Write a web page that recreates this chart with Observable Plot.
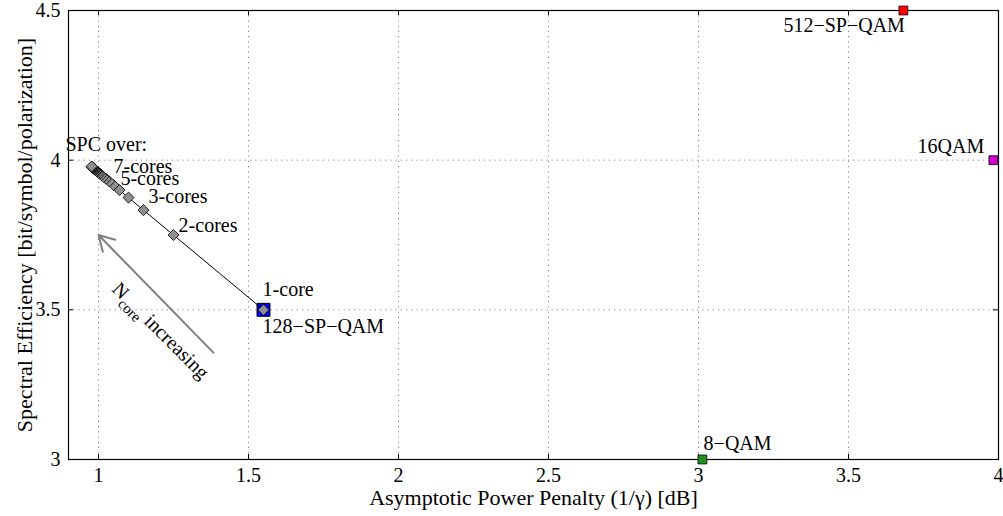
<!DOCTYPE html>
<html>
<head>
<meta charset="utf-8">
<script src="https://cdn.jsdelivr.net/npm/d3@7"></script>
<script src="https://cdn.jsdelivr.net/npm/@observablehq/plot@0.6"></script>
<style>
  html, body { margin: 0; padding: 0; background: #fff; }
  svg, svg text { font-family: "Liberation Serif", "Times New Roman", serif !important; }
</style>
</head>
<body>
<div id="chart"></div>
<script>
// ---- data ----
const xTicks = [1, 1.5, 2, 2.5, 3, 3.5, 4];
const yTicks = [3, 3.5, 4, 4.5];

// SPC over N cores
const cores   = [1, 2, 3, 4, 5, 6, 7, 8, 9, 10, 11, 12, 13, 14, 15, 16, 17, 18, 19, 20, 21, 22, 23, 24];
const spcPenalty = [1.55, 1.25, 1.15, 1.10, 1.07, 1.05, 1.036, 1.025, 1.017, 1.01, 1.005, 1.0, 0.996, 0.993, 0.99, 0.988, 0.986, 0.984, 0.983, 0.981, 0.98, 0.979, 0.978, 0.977];
const spcSE      = [3.5, 3.75, 3.833, 3.875, 3.9, 3.917, 3.929, 3.938, 3.944, 3.95, 3.955, 3.958, 3.962, 3.964, 3.967, 3.969, 3.971, 3.972, 3.974, 3.975, 3.976, 3.977, 3.978, 3.979];

// reference formats
const formatNames   = ["128−SP−QAM", "512−SP−QAM", "16QAM", "8−QAM"];
const formatPenalty = [1.55, 3.683, 3.983, 3.013];
const formatSE      = [3.5, 4.5, 4.0, 3.0];
const formatColors  = ["#0000ff", "#ff0000", "#d400d4", "#1f8f1f"];

// annotations (data coordinates)
const noteText   = ["SPC over:", "7-cores", "5-cores", "3-cores", "2-cores", "1-core", "128−SP−QAM", "512−SP−QAM", "16QAM", "8−QAM"];
const noteX      = [0.89, 1.05, 1.073, 1.167, 1.267, 1.547, 1.547, 3.283, 3.73, 3.017];
const noteY      = [4.053, 3.977, 3.937, 3.877, 3.78, 3.567, 3.443, 4.45, 4.047, 3.053];

const arrowFrom = {x: 1.383, y: 3.357};
const arrowTo   = {x: 1.0, y: 3.75};
const arrowLabel = {x: 1.207, y: 3.43, text: "Ncore increasing"};

// ---- derived tables ----
const spc = cores.map((n, i) => ({n, x: spcPenalty[i], y: spcSE[i]}));
const formats = formatNames.map((name, i) => ({name, x: formatPenalty[i], y: formatSE[i], color: formatColors[i]}));
const bigFormats = formats.filter(d => d.name === "128−SP−QAM");
const smallFormats = formats.filter(d => d.name !== "128−SP−QAM");
const notes = noteText.map((t, i) => ({t, x: noteX[i], y: noteY[i]}));

const xDom = [0.9, 4];
const yDom = [3, 4.5];
const tx = 0.0167, ty = 0.0167;
const font = "Liberation Serif";
const fs = 20;

const chart = Plot.plot({
  width: 1003,
  height: 516,
  marginLeft: 68,
  marginRight: 5,
  marginTop: 10,
  marginBottom: 57,
  style: {fontFamily: font, fontSize: fs + "px", background: "#fff", color: "#000"},
  x: {domain: xDom, ticks: xTicks},
  y: {domain: yDom, ticks: yTicks},
  marks: [
    Plot.gridX(xTicks, {stroke: "#888", strokeOpacity: 1, strokeDasharray: "1.2,4", strokeWidth: 1}),
    Plot.gridY(yTicks, {stroke: "#888", strokeOpacity: 1, strokeDasharray: "1.2,4", strokeWidth: 1}),
    // inward ticks on all four sides
    Plot.ruleX(xTicks, {x: d => d, y1: yDom[0], y2: yDom[0] + ty, stroke: "#000"}),
    Plot.ruleX(xTicks, {x: d => d, y1: yDom[1], y2: yDom[1] - ty, stroke: "#000"}),
    Plot.ruleY(yTicks, {y: d => d, x1: xDom[0], x2: xDom[0] + tx, stroke: "#000"}),
    Plot.ruleY(yTicks, {y: d => d, x1: xDom[1], x2: xDom[1] - tx, stroke: "#000"}),
    Plot.frame({stroke: "#000", strokeWidth: 1.2}),
    Plot.axisX(xTicks, {tickSize: 0, tickPadding: 8, tickFormat: d => String(d), label: null, fontSize: fs, fontFamily: font}),
    Plot.axisY(yTicks, {tickSize: 0, tickPadding: 8, tickFormat: d => String(d), label: null, fontSize: fs, fontFamily: font}),
    Plot.text(["Asymptotic Power Penalty (1/γ) [dB]"], {frameAnchor: "bottom", textAnchor: "middle", lineAnchor: "middle", dy: 38, fontSize: 22, fontFamily: font}),
    Plot.text(["Spectral Efficiency [bit/symbol/polarization]"], {frameAnchor: "left", textAnchor: "middle", lineAnchor: "middle", dx: -44, rotate: -90, fontSize: 22, fontFamily: font}),
    // arrow
    Plot.arrow([0], {x1: () => arrowFrom.x, y1: () => arrowFrom.y, x2: () => arrowTo.x, y2: () => arrowTo.y,
      stroke: "#808080", strokeWidth: 2, headLength: 13}),
    Plot.text([arrowLabel], {x: "x", y: "y", text: "text", rotate: 45, fontSize: fs, fontFamily: font}),
    // reference formats
    Plot.dot(bigFormats, {x: "x", y: "y", symbol: "square", fill: "color", stroke: "#000", strokeWidth: 1, r: 7.3}),
    Plot.dot(smallFormats, {x: "x", y: "y", symbol: "square", fill: "color", stroke: "#000", strokeWidth: 0.8, r: 5}),
    // SPC line + diamonds
    Plot.line(spc, {x: "x", y: "y", stroke: "#000", strokeWidth: 1}),
    Plot.dot(spc, {x: "x", y: "y", symbol: "diamond2", fill: "#8f8f8f", stroke: "#000", strokeWidth: 0.8, r: 5}),
    // annotations
    Plot.text(notes, {x: "x", y: "y", text: "t", textAnchor: "start", fontSize: fs, fontFamily: font})
  ]
});

document.getElementById("chart").appendChild(chart);

// subscript for N_core
d3.select(chart).selectAll("text").filter(function() { return this.textContent === "Ncore increasing"; })
  .each(function() {
    const t = d3.select(this);
    t.text(null);
    t.append("tspan").text("N");
    t.append("tspan").attr("dy", 6).attr("font-size", 15).text("core");
    t.append("tspan").attr("dy", -6).text(" increasing");
  });
</script>
</body>
</html>
